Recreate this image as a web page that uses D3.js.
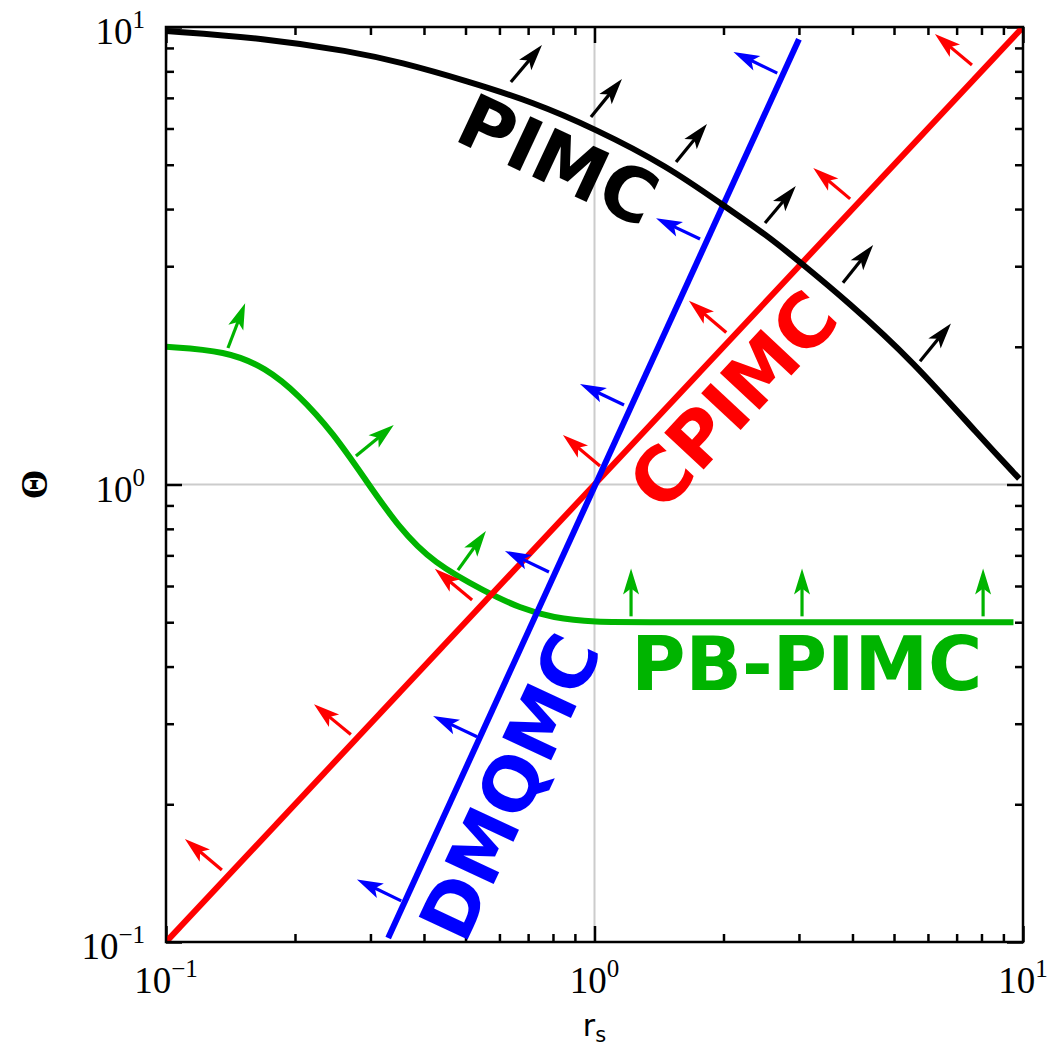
<!DOCTYPE html>
<html><head><meta charset="utf-8">
<script src="https://cdn.jsdelivr.net/npm/d3@7"></script>
<style>body{margin:0;background:#fff}</style>
</head><body>
<svg id="chart" width="1061" height="1055"></svg>
<script>
// ---------- data ----------
const xDomain = [0.1, 10];
const yDomain = [0.1, 10];
const majorTicks = [0.1, 1, 10];
const majorExps = ["\u22121", "0", "1"];
const minorTicks = [0.2,0.3,0.4,0.5,0.6,0.7,0.8,0.9,2,3,4,5,6,7,8,9];
const gridX = [1];
const gridY = [1];

const cpimcLine = [[0.1, 0.1], [10, 10]];
const dmqmcLine = [[0.33, 0.102], [3.0, 9.4]];
const pimcCurve = [[0.1,9.80],[0.17,9.45],[0.269,8.85],[0.352,8.38],[0.504,7.62],[0.719,6.85],[1.0,6.0],
  [1.476,4.97],[1.995,4.08],[2.53,3.50],[3.02,3.06],[3.88,2.52],[5.54,1.86],[7.94,1.27],[9.8,1.03]];
const pbpimcCurve = [[0.1,2.0],[0.138,1.96],[0.171,1.80],[0.204,1.57],[0.245,1.30],[0.293,1.02],
  [0.350,0.803],[0.420,0.674],[0.558,0.582],[0.670,0.537],[0.800,0.511],[1.0,0.5],[1.3,0.5],[9.5,0.5]];

// arrows: [rsTail, thetaTail, rsTip, thetaTip]
const pimcArrows = [[0.638,7.58,0.754,9.13],[0.981,6.36,1.159,7.70],[1.550,5.07,1.830,6.14],
  [2.50,3.73,2.95,4.49],[3.80,2.76,4.47,3.34],[5.75,1.86,6.79,2.25]];
const dmqmcArrows = [[2.67,7.93,2.11,8.82],[1.763,3.44,1.392,3.82],[1.172,1.492,0.925,1.659],
  [0.783,0.644,0.618,0.716],[0.532,0.281,0.420,0.312],[0.354,0.123,0.279,0.137]];
const cpimcArrows = [[7.60,8.26,6.23,9.65],[3.95,4.21,3.24,4.92],[2.03,2.15,1.661,2.52],
  [1.030,1.098,0.844,1.283],[0.518,0.559,0.424,0.654],[0.270,0.284,0.2215,0.331],[0.135,0.1437,0.1107,0.168]];
const pbpimcArrows = [[0.1395,1.988,0.153,2.49],[0.2775,1.154,0.340,1.349],[0.480,0.650,0.558,0.791],
  [1.217,0.515,1.217,0.655],[3.05,0.515,3.05,0.655],[8.07,0.515,8.07,0.655]];

// labels: [text, rs, theta, rotation]
const methodLabels = [["PIMC",0.822,5.12,25],["CPIMC",2.105,1.53,-47],["DMQMC",0.635,0.218,-65],["PB-PIMC",3.13,0.405,0]];
const methodColors = {"PIMC":"#000000","CPIMC":"#ff0000","DMQMC":"#0000ff","PB-PIMC":"#00b400"};

// ---------- drawing ----------
const svg = d3.select("#chart");
const L = 166, R = 1023, T = 27, B = 942;
const x = d3.scaleLog().domain(xDomain).range([L, R]);
const y = d3.scaleLog().domain(yDomain).range([B, T]);

svg.append("defs").append("clipPath").attr("id","clip")
  .append("rect").attr("x",L).attr("y",T).attr("width",R-L).attr("height",B-T);

// grid
const g = svg.append("g");
g.selectAll(".gx").data(gridX).join("line").attr("x1",d=>x(d)).attr("x2",d=>x(d))
  .attr("y1",T).attr("y2",B).attr("stroke","#cccccc").attr("stroke-width",2);
g.selectAll(".gy").data(gridY).join("line").attr("y1",d=>y(d)).attr("y2",d=>y(d))
  .attr("x1",L).attr("x2",R).attr("stroke","#cccccc").attr("stroke-width",2);

// axes (inward ticks all around)
function styleAxis(sel){ sel.select(".domain").remove(); sel.selectAll("line").attr("stroke","#000").attr("stroke-width",2.5); sel.selectAll("text").remove(); }
const axes = [
  [d3.axisBottom(x), `translate(0,${B})`],
  [d3.axisTop(x), `translate(0,${T})`],
  [d3.axisLeft(y), `translate(${L},0)`],
  [d3.axisRight(y), `translate(${R},0)`]
];
axes.forEach(([ax, tr]) => {
  svg.append("g").attr("transform", tr).call(ax.tickValues(majorTicks).tickSize(-16).tickFormat(()=>"")).call(styleAxis);
  svg.append("g").attr("transform", tr).call(ax.tickValues(minorTicks).tickSize(-8).tickFormat(()=>"")).call(styleAxis);
});

// curves
const line = d3.line().x(d=>x(d[0])).y(d=>y(d[1]));
const smooth = d3.line().x(d=>x(d[0])).y(d=>y(d[1])).curve(d3.curveBasis);
const plot = svg.append("g").attr("clip-path","url(#clip)");
const LW = 6;
plot.append("path").datum(pbpimcCurve).attr("d",smooth).attr("fill","none").attr("stroke",methodColors["PB-PIMC"]).attr("stroke-width",LW);
plot.append("path").datum(cpimcLine).attr("d",line).attr("fill","none").attr("stroke",methodColors["CPIMC"]).attr("stroke-width",LW);
plot.append("path").datum(dmqmcLine).attr("d",line).attr("fill","none").attr("stroke",methodColors["DMQMC"]).attr("stroke-width",LW);
plot.append("path").datum(pimcCurve).attr("d",smooth).attr("fill","none").attr("stroke",methodColors["PIMC"]).attr("stroke-width",LW);

// arrows
function drawArrows(arr, color){
  arr.forEach(a => {
    const x0=x(a[0]), y0=y(a[1]), x1=x(a[2]), y1=y(a[3]);
    const dx=x1-x0, dy=y1-y0, len=Math.hypot(dx,dy);
    const ux=dx/len, uy=dy/len, px=-uy, py=ux;
    const hl=26, hw=8, notch=20;
    plot.append("line").attr("x1",x0).attr("y1",y0).attr("x2",x1-ux*(notch-2)).attr("y2",y1-uy*(notch-2))
      .attr("stroke",color).attr("stroke-width",3.2);
    const pts=[[x1,y1],[x1-ux*hl+px*hw,y1-uy*hl+py*hw],[x1-ux*notch,y1-uy*notch],[x1-ux*hl-px*hw,y1-uy*hl-py*hw]];
    plot.append("path").attr("d","M"+pts.map(p=>p.join(",")).join("L")+"Z").attr("fill",color).attr("stroke","none");
  });
}
drawArrows(pimcArrows, methodColors["PIMC"]);
drawArrows(dmqmcArrows, methodColors["DMQMC"]);
drawArrows(cpimcArrows, methodColors["CPIMC"]);
drawArrows(pbpimcArrows, methodColors["PB-PIMC"]);

// method labels
svg.selectAll(".mlab").data(methodLabels).join("text")
  .attr("transform", d=>`translate(${x(d[1])},${y(d[2])}) rotate(${d[3]})`)
  .attr("text-anchor","middle").attr("dominant-baseline","central")
  .attr("font-family","'DejaVu Sans'").attr("font-weight","bold").attr("font-size",74)
  .attr("fill", d=>methodColors[d[0]]).text(d=>d[0]);

// frame
svg.append("rect").attr("x",L).attr("y",T).attr("width",R-L).attr("height",B-T)
  .attr("fill","none").attr("stroke","#000").attr("stroke-width",2.5);

// tick labels
const serif = "'Liberation Serif','Times New Roman',serif";
majorTicks.forEach((v,i) => {
  const tx = svg.append("text").attr("x", x(v)).attr("y", B+51).attr("text-anchor","middle")
    .attr("font-family",serif).attr("font-size",37);
  tx.append("tspan").text("10");
  tx.append("tspan").attr("dy",-16).attr("font-size",25).text(majorExps[i]);
  const ty = svg.append("text").attr("x", 145).attr("y", y(v)+17).attr("text-anchor","end")
    .attr("font-family",serif).attr("font-size",37);
  ty.append("tspan").text("10");
  ty.append("tspan").attr("dy",-16).attr("font-size",25).text(majorExps[i]);
});

// axis titles
const xt = svg.append("text").attr("x",(L+R)/2).attr("y",1036).attr("text-anchor","middle")
  .attr("font-family","'DejaVu Sans'").attr("font-size",30);
xt.append("tspan").text("r");
xt.append("tspan").attr("dy",6).attr("font-size",21).text("s");
svg.append("text").attr("transform",`translate(34,${(T+B)/2}) rotate(-90)`)
  .attr("text-anchor","middle").attr("dominant-baseline","central")
  .attr("font-family",serif).attr("font-weight","bold").attr("font-size",38).text("\u0398");
</script>
</body></html>
